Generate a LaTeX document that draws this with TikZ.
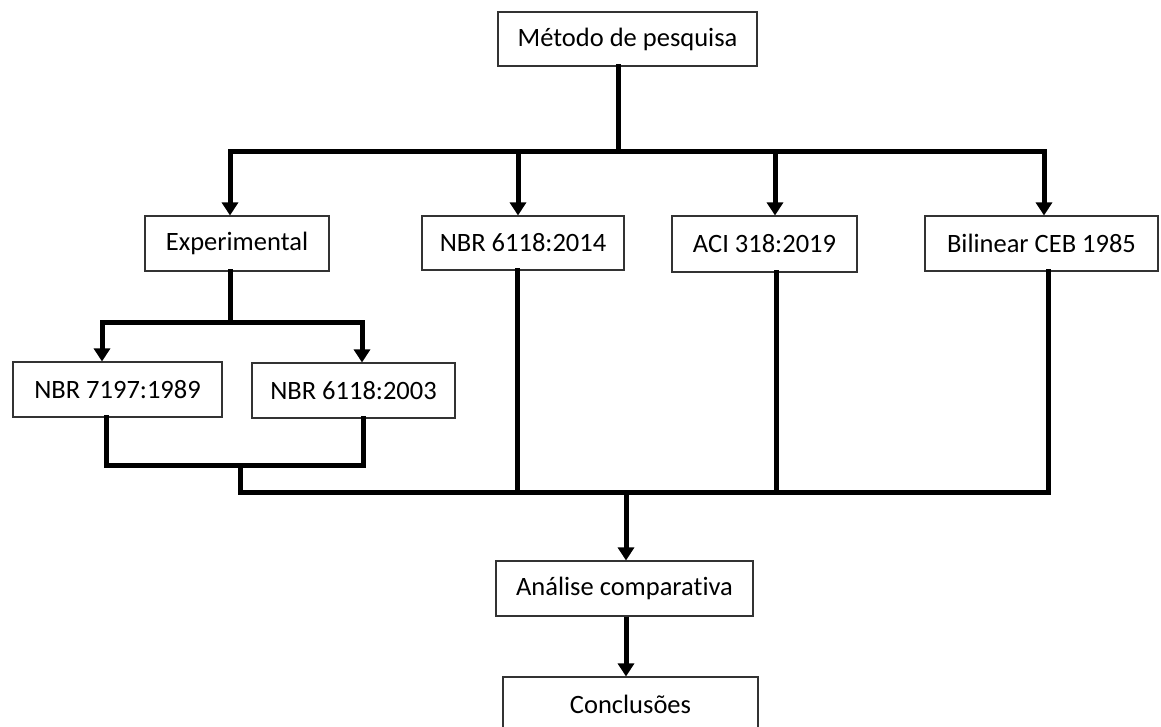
\documentclass[tikz,border=0pt]{standalone}
\usepackage{fontspec}
\setmainfont[Ligatures=NoCommon]{Carlito}
\usetikzlibrary{arrows.meta}
\begin{document}
\begin{tikzpicture}[x=1pt,y=-1pt,
  box/.style={draw=black!80,line width=1.1pt,fill=white,inner sep=0pt,font=\fontsize{26.5}{30}\selectfont,anchor=center},
  link/.style={line width=5pt,line cap=rect,line join=miter},
  arr/.style={line width=5pt,-{Triangle[width=16pt,length=13pt]}}]
\useasboundingbox (0,0) rectangle (1161,727);
\begin{scope}
\clip (0,0) rectangle (1161,727);
% boxes
\node[box,minimum width=259pt,minimum height=54pt] (metodo) at (627.5,39) {Método de pesquisa};
\node[box,minimum width=184pt,minimum height=55pt] (exp) at (237,243.5) {Experimental};
\node[box,minimum width=202pt,minimum height=54pt] (n2014) at (523,243) {NBR 6118:2014};
\node[box,minimum width=185pt,minimum height=56pt] (aci) at (764.5,244) {ACI 318:2019};
\node[box,minimum width=233pt,minimum height=55pt] (bil) at (1041.5,243.5) {Bilinear CEB 1985};
\node[box,minimum width=209pt,minimum height=55pt] (n7197) at (117.5,389.5) {NBR 7197:1989};
\node[box,minimum width=203pt,minimum height=55pt] (n2003) at (353.5,390.5) {NBR 6118:2003};
\node[box,minimum width=257pt,minimum height=55pt] (analise) at (624.5,588.5) {Análise comparativa};
\node[box,minimum width=255pt,minimum height=55pt] (concl) at (630.5,704.5) {Conclusões};
% junction x positions
\coordinate (xm) at (618,152);
\coordinate (xe) at (230,152);
\coordinate (x14) at (518,152);
\coordinate (xa) at (775,152);
\coordinate (xb) at (1044,152);
\coordinate (se) at (230,322);
\coordinate (sl) at (102,322);
\coordinate (sr) at (362,322);
\coordinate (bl) at (106,465);
\coordinate (br) at (363,465);
\coordinate (bm) at (240,465);
\coordinate (bus) at (240,492);
\coordinate (busr) at (1048,492);
\coordinate (xc) at (626,492);
\end{scope}
% top bus
\draw[link] (metodo.south -| xm) -- (xm);
\draw[link] (xe) -- (xb);
\draw[arr] (xe) -- (exp.north -| xe);
\draw[arr] (x14) -- (n2014.north -| x14);
\draw[arr] (xa) -- (aci.north -| xa);
\draw[arr] (xb) -- (bil.north -| xb);
% experimental branch
\draw[link] (exp.south -| se) -- (se);
\draw[link] (sl) -- (sr);
\draw[arr] (sl) -- (n7197.north -| sl);
\draw[arr] (sr) -- (n2003.north -| sr);
\draw[link] (n7197.south -| bl) -- (bl) -- (br) -- (n2003.south -| br);
\draw[link] (bm) -- (bus);
% bottom bus
\draw[link] (bus) -- (busr) -- (bil.south -| busr);
\draw[link] (n2014.south -| 517,0) -- (517,492);
\draw[link] (aci.south -| 776,0) -- (776,492);
\draw[arr] (xc) -- (analise.north -| xc);
\draw[arr] (analise.south -| xc) -- (concl.north -| xc);
\end{tikzpicture}
\end{document}
